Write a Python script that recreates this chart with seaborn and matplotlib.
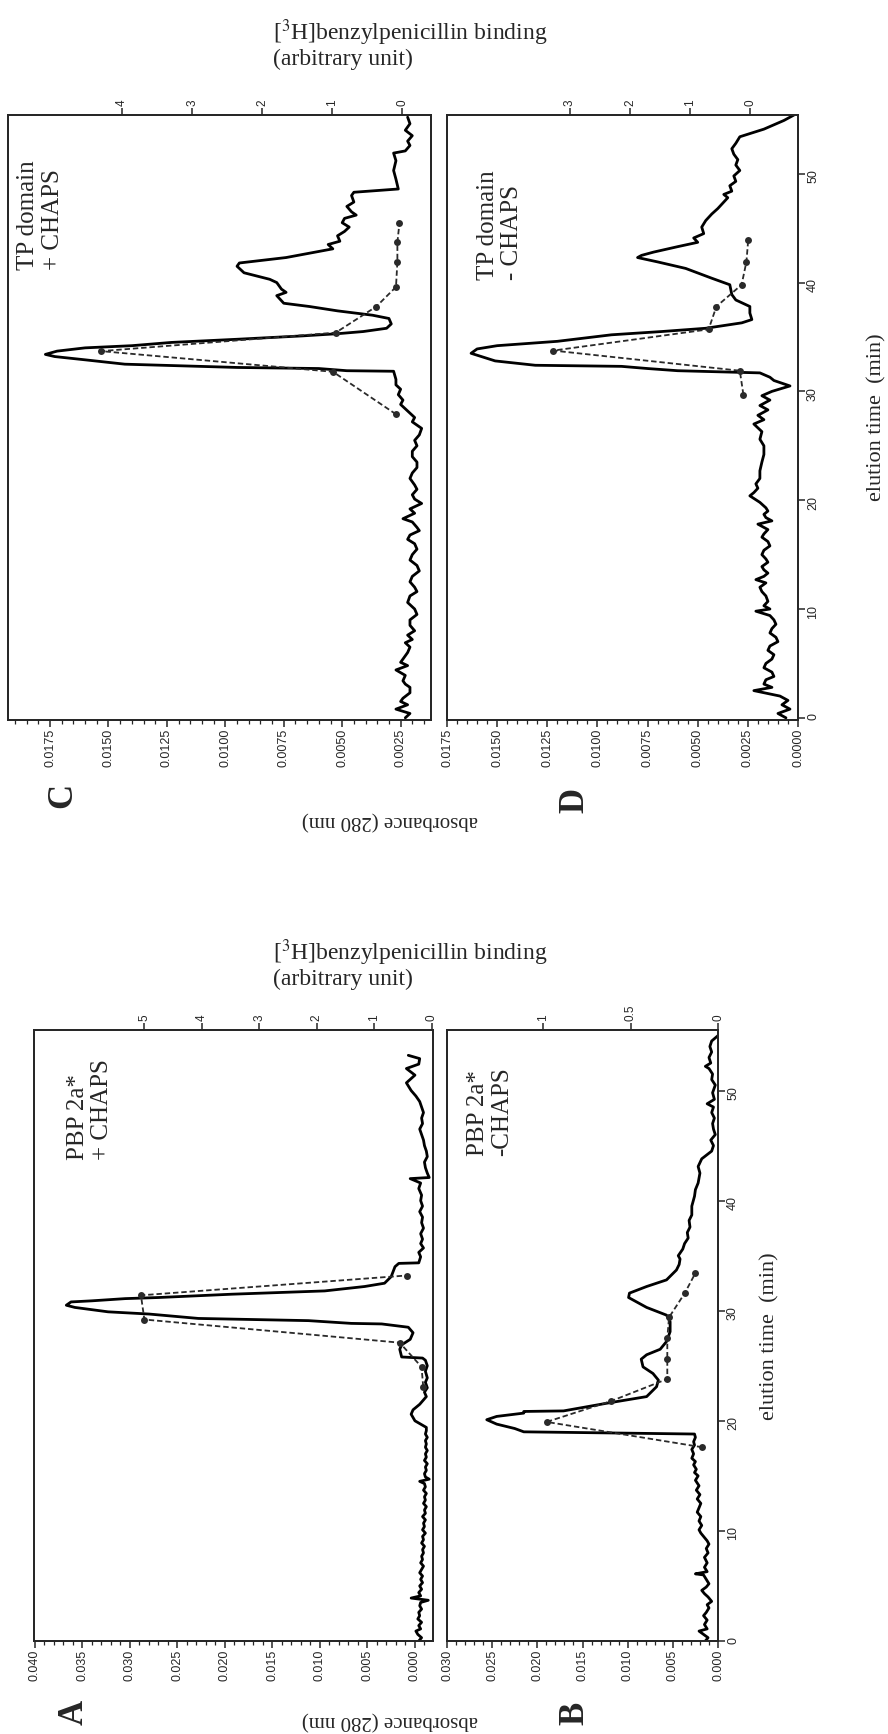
import matplotlib
matplotlib.use("Agg")
import matplotlib.pyplot as plt
from matplotlib.ticker import FixedLocator, AutoMinorLocator, NullLocator
import seaborn as sns

# ---------------- data ----------------
# (elution time in min, absorbance at 280 nm) for the solid traces,
# binding in arbitrary units for the dashed traces

# A: PBP 2a* + CHAPS
a_trace = [(0.0, -0.0004), (0.3, -0.0007), (0.6, -0.0003), (0.9, -0.0001), (1.1, -0.0006),
           (1.4, -0.0004), (1.7, -0.0007), (2.0, -0.0003), (2.3, -0.0005), (2.6, -0.0004),
           (2.9, -0.0007), (3.2, -0.0005), (3.5, -0.0006), (3.7, -0.0014), (3.9, 0.0004),
           (4.1, -0.0006), (4.4, -0.0004), (4.7, -0.0007), (5.0, -0.0005), (5.3, -0.0008),
           (5.6, -0.0006), (5.9, -0.0008), (6.2, -0.0005), (6.5, -0.0007), (6.8, -0.0009),
           (7.1, -0.0006), (7.4, -0.0008), (7.7, -0.0007), (8.0, -0.0009), (8.3, -0.0008),
           (8.6, -0.0010), (8.9, -0.0007), (9.2, -0.0009), (9.5, -0.0008), (9.8, -0.0011),
           (10.1, -0.0008), (10.4, -0.0010), (10.7, -0.0009), (11.0, -0.0011), (11.3, -0.0008),
           (11.6, -0.0011), (11.9, -0.0010), (12.2, -0.0012), (12.5, -0.0009), (12.8, -0.0011),
           (13.1, -0.0010), (13.4, -0.0012), (13.7, -0.0009), (14.0, -0.0011), (14.3, -0.0010),
           (14.5, -0.0005), (14.7, -0.0015), (14.9, -0.0011), (15.2, -0.0010), (15.5, -0.0012),
           (15.8, -0.0011), (16.1, -0.0013), (16.4, -0.0010), (16.7, -0.0012), (17.0, -0.0011),
           (17.3, -0.0013), (17.6, -0.0011), (17.9, -0.0012), (18.2, -0.0011), (18.5, -0.0013),
           (18.8, -0.0011), (19.1, -0.0012), (19.4, -0.0012), (20.0, 0.0000), (20.6, 0.0004),
           (21.0, 0.0002), (21.5, -0.0005), (22.2, -0.0012), (22.6, -0.0010), (23.0, -0.0013),
           (23.5, -0.0011), (23.9, -0.0013), (24.5, -0.0011), (25.0, -0.0013), (25.5, -0.0011),
           (25.7, -0.0008), (25.8, 0.0014), (26.5, 0.0016), (26.9, 0.0014), (27.4, 0.0005),
           (28.0, 0.0002), (28.5, 0.0007), (28.8, 0.0035), (28.85, 0.0067), (29.1, 0.0112),
           (29.3, 0.0228), (29.7, 0.0280), (29.9, 0.0323), (30.3, 0.0358), (30.5, 0.0367),
           (30.8, 0.0362), (30.9, 0.0340), (31.1, 0.0305), (31.2, 0.0270), (31.5, 0.0193),
           (31.8, 0.0095), (32.2, 0.0053), (32.5, 0.0032), (33.1, 0.0025), (34.0, 0.0021),
           (34.3, 0.0017), (34.35, -0.0004), (34.9, -0.0006), (35.3, -0.0004), (35.7, -0.0009),
           (36.1, -0.0006), (36.5, -0.0008), (37.0, -0.0006), (37.5, -0.0009), (38.0, -0.0007),
           (38.5, -0.0008), (39.0, -0.0005), (39.5, -0.0008), (40.0, -0.0006), (40.5, -0.0007),
           (41.1, -0.0004), (41.6, -0.0006), (42.0, 0.0005), (42.1, -0.0015), (42.5, -0.0013),
           (43.0, -0.0011), (43.5, -0.0010), (44.0, -0.0013), (44.5, -0.0012), (45.0, -0.0010),
           (45.5, -0.0009), (46.0, -0.0007), (46.5, -0.0005), (47.0, -0.0008), (47.5, -0.0007),
           (48.0, -0.0009), (48.5, -0.0007), (49.0, -0.0005), (49.5, -0.0001), (50.0, 0.0004),
           (50.7, 0.0009), (51.4, 0.0000), (52.0, 0.0009), (52.4, -0.0004), (52.9, -0.0005),
           (53.2, 0.0007)]
a_bind_time = [23.1, 24.9, 27.1, 29.2, 31.4, 33.2]
a_bind = [0.15, 0.18, 0.56, 5.0, 5.06, 0.44]

# B: PBP 2a* - CHAPS
b_trace = [(0.0, 0.0014), (0.3, 0.0011), (0.6, 0.0016), (0.9, 0.0021), (1.1, 0.0012),
           (1.5, 0.0015), (1.9, 0.0012), (2.3, 0.0016), (2.6, 0.0013), (3.0, 0.0010),
           (3.3, 0.0012), (3.6, 0.0007), (4.0, 0.0011), (4.3, 0.0015), (4.6, 0.0018),
           (4.9, 0.0013), (5.2, 0.0010), (5.6, 0.0013), (6.0, 0.0016), (6.1, 0.0025),
           (6.3, 0.0012), (6.7, 0.0015), (7.1, 0.0012), (7.6, 0.0015), (8.0, 0.0011),
           (8.4, 0.0013), (8.8, 0.0010), (9.1, 0.0012), (9.5, 0.0016), (9.8, 0.0019),
           (10.1, 0.0021), (10.5, 0.0018), (10.9, 0.0021), (11.3, 0.0019), (11.7, 0.0023),
           (12.1, 0.0021), (12.5, 0.0019), (12.9, 0.0023), (13.3, 0.0020), (13.7, 0.0024),
           (14.1, 0.0021), (14.6, 0.0025), (15.0, 0.0022), (15.3, 0.0026), (15.6, 0.0024),
           (16.0, 0.0027), (16.3, 0.0025), (16.6, 0.0029), (17.0, 0.0027), (17.4, 0.0029),
           (17.8, 0.0026), (18.1, 0.0027), (18.5, 0.0025), (18.8, 0.0026), (19.0, 0.0215),
           (19.3, 0.0225), (19.7, 0.0245), (20.1, 0.0256), (20.4, 0.0245), (20.7, 0.0215),
           (20.85, 0.0215), (20.9, 0.0171), (21.6, 0.0123), (21.9, 0.0101), (22.2, 0.0079),
           (23.1, 0.0068), (23.7, 0.0066), (24.3, 0.0072), (24.9, 0.0083), (25.6, 0.0085),
           (26.0, 0.0079), (26.5, 0.0064), (27.2, 0.0057), (28.1, 0.0053), (29.0, 0.0053),
           (29.6, 0.0057), (30.3, 0.0079), (31.2, 0.0099), (31.6, 0.0098), (32.2, 0.0079),
           (32.8, 0.0057), (33.7, 0.0046), (34.2, 0.0043), (34.7, 0.0042), (35.0, 0.0044),
           (35.6, 0.0039), (36.1, 0.0037), (36.6, 0.0033), (37.1, 0.0034), (37.6, 0.0031),
           (38.2, 0.0032), (38.7, 0.0029), (39.5, 0.0029), (40.4, 0.0026), (41.0, 0.0025),
           (41.6, 0.0022), (42.5, 0.0020), (43.1, 0.0022), (43.8, 0.0018), (44.5, 0.0007),
           (45.0, 0.0005), (45.5, 0.0008), (46.0, 0.0003), (46.5, 0.0005), (47.0, 0.0006),
           (47.5, 0.0004), (48.0, 0.0007), (48.5, 0.0005), (48.8, 0.0012), (49.2, 0.0004),
           (49.8, 0.0006), (50.5, 0.0003), (51.0, 0.0007), (51.5, 0.0006), (52.0, 0.0010),
           (52.2, 0.0014), (52.5, 0.0008), (53.0, 0.0010), (53.5, 0.0007), (54.0, 0.0009),
           (54.5, 0.0007), (55.2, -0.0003)]
b_bind_time = [17.6, 19.9, 21.8, 23.8, 25.6, 27.5, 29.4, 31.6, 33.4]
b_bind = [0.09, 0.98, 0.61, 0.29, 0.29, 0.29, 0.28, 0.19, 0.13]

# C: TP domain + CHAPS
c_trace = [(0.0, 0.0023), (0.4, 0.0021), (0.8, 0.0027), (1.2, 0.0022), (1.5, 0.0025),
           (1.8, 0.0024), (2.3, 0.0021), (2.8, 0.0021), (3.1, 0.0023), (3.4, 0.0024),
           (3.9, 0.0023), (4.4, 0.0027), (4.8, 0.0022), (5.1, 0.0025), (5.4, 0.0024),
           (6.0, 0.0022), (6.5, 0.0021), (6.9, 0.0023), (7.2, 0.0020), (7.6, 0.0022),
           (8.0, 0.0019), (8.5, 0.0021), (9.0, 0.0021), (9.5, 0.0018), (10.0, 0.0019),
           (10.6, 0.0022), (11.2, 0.0021), (11.6, 0.0018), (12.0, 0.0019), (12.5, 0.0021),
           (13.0, 0.0020), (13.5, 0.0017), (14.0, 0.0018), (14.5, 0.0021), (15.0, 0.0020),
           (15.5, 0.0018), (16.0, 0.0019), (16.4, 0.0022), (16.8, 0.0021), (17.2, 0.0017),
           (17.5, 0.0018), (18.0, 0.0020), (18.3, 0.0024), (18.8, 0.0019), (19.2, 0.0021),
           (19.7, 0.0016), (20.1, 0.0019), (20.5, 0.0020), (21.0, 0.0018), (21.4, 0.0019),
           (22.0, 0.0021), (22.5, 0.0020), (23.0, 0.0018), (23.5, 0.0018), (24.0, 0.0020),
           (24.5, 0.0020), (25.0, 0.0018), (25.5, 0.0019), (26.0, 0.0017), (26.6, 0.0016),
           (27.2, 0.0020), (27.6, 0.0019), (28.2, 0.0022), (28.8, 0.0025), (29.2, 0.0024),
           (29.7, 0.0026), (30.2, 0.0025), (30.6, 0.0027), (31.1, 0.0027), (31.85, 0.0028),
           (31.9, 0.0048), (32.1, 0.0060), (32.2, 0.0095), (32.5, 0.0143), (32.9, 0.0160),
           (33.2, 0.0173), (33.4, 0.0177), (33.7, 0.0172), (34.0, 0.0160), (34.2, 0.0140),
           (34.5, 0.0123), (34.8, 0.0094), (35.1, 0.0067), (35.3, 0.0052), (35.5, 0.0041),
           (35.8, 0.0031), (36.2, 0.0029), (36.7, 0.0030), (37.0, 0.0037), (37.4, 0.0052),
           (37.8, 0.0064), (38.1, 0.0075), (38.8, 0.0078), (39.1, 0.0074), (39.4, 0.0076),
           (40.0, 0.0078), (40.3, 0.0081), (40.9, 0.0092), (41.5, 0.0095), (41.8, 0.0094),
           (42.3, 0.0074), (43.1, 0.0054), (43.5, 0.0056), (43.8, 0.0051), (44.3, 0.0052),
           (44.7, 0.0049), (45.1, 0.0047), (45.5, 0.0050), (45.9, 0.0049), (46.2, 0.0044),
           (46.5, 0.0046), (47.0, 0.0048), (47.4, 0.0045), (48.0, 0.0046), (48.3, 0.0045),
           (48.6, 0.0026), (49.5, 0.0027), (50.3, 0.0028), (51.2, 0.0027), (51.9, 0.0028),
           (52.1, 0.0023), (52.6, 0.0021), (53.0, 0.0022), (53.5, 0.0020), (54.0, 0.0023),
           (54.6, 0.0021), (55.2, 0.0022)]
c_bind_time = [27.9, 31.8, 33.7, 35.4, 37.8, 39.6, 41.9, 43.7, 45.5]
c_bind = [0.09, 0.99, 4.3, 0.95, 0.37, 0.09, 0.07, 0.07, 0.04]

# D: TP domain - CHAPS
d_trace = [(0.0, 0.0006), (0.4, 0.0010), (0.8, 0.0004), (1.2, 0.0008), (1.6, 0.0005),
           (2.0, 0.0009), (2.5, 0.0022), (2.8, 0.0013), (3.1, 0.0017), (3.5, 0.0016),
           (3.8, 0.0012), (4.2, 0.0013), (4.6, 0.0017), (5.0, 0.0016), (5.4, 0.0013),
           (5.8, 0.0012), (6.2, 0.0015), (6.6, 0.0014), (7.0, 0.0010), (7.4, 0.0011),
           (7.8, 0.0014), (8.2, 0.0013), (8.6, 0.0011), (9.0, 0.0012), (9.4, 0.0014),
           (9.8, 0.0021), (10.0, 0.0014), (10.3, 0.0017), (10.7, 0.0015), (11.2, 0.0016),
           (11.6, 0.0018), (12.0, 0.0019), (12.4, 0.0016), (12.7, 0.0021), (13.0, 0.0017),
           (13.3, 0.0015), (13.6, 0.0017), (13.9, 0.0018), (14.3, 0.0015), (14.6, 0.0016),
           (15.0, 0.0018), (15.4, 0.0017), (15.8, 0.0014), (16.2, 0.0015), (16.6, 0.0018),
           (16.9, 0.0017), (17.3, 0.0015), (17.8, 0.0020), (18.1, 0.0013), (18.4, 0.0016),
           (18.7, 0.0017), (19.0, 0.0015), (19.3, 0.0016), (19.8, 0.0019), (20.4, 0.0024),
           (20.7, 0.0022), (21.1, 0.0020), (21.5, 0.0021), (22.0, 0.0019), (22.7, 0.0019),
           (23.5, 0.0018), (24.2, 0.0017), (25.0, 0.0017), (25.6, 0.0019), (26.3, 0.0018),
           (27.0, 0.0022), (27.4, 0.0017), (27.8, 0.0020), (28.3, 0.0015), (28.7, 0.0019),
           (29.2, 0.0014), (29.6, 0.0018), (30.0, 0.0013), (30.5, 0.0004), (31.0, 0.0012),
           (31.3, 0.0014), (31.7, 0.0019), (31.9, 0.0060), (32.1, 0.0075), (32.3, 0.0088),
           (32.4, 0.0131), (32.8, 0.0151), (33.5, 0.0163), (33.9, 0.0160), (34.2, 0.0150),
           (34.6, 0.0120), (35.2, 0.0093), (35.5, 0.0068), (35.8, 0.0046), (36.3, 0.0028),
           (36.6, 0.0023), (37.2, 0.0024), (37.8, 0.0024), (38.4, 0.0031), (38.9, 0.0033),
           (39.8, 0.0034), (40.4, 0.0043), (41.3, 0.0056), (41.9, 0.0070), (42.3, 0.0080),
           (42.5, 0.0078), (42.8, 0.0072), (43.3, 0.0060), (43.7, 0.0050), (44.1, 0.0052),
           (44.5, 0.0047), (45.1, 0.0048), (45.7, 0.0046), (46.3, 0.0043), (46.8, 0.0040),
           (47.2, 0.0038), (47.8, 0.0035), (48.1, 0.0037), (48.4, 0.0033), (48.9, 0.0034),
           (49.3, 0.0031), (49.8, 0.0032), (50.3, 0.0029), (50.8, 0.0031), (51.3, 0.0030),
           (51.8, 0.0032), (52.3, 0.0033), (52.8, 0.0031), (53.4, 0.0029), (54.1, 0.0017),
           (54.5, 0.0012), (54.9, 0.0007), (55.4, 0.0002)]
d_bind_time = [29.7, 31.9, 33.75, 35.7, 37.8, 39.8, 41.9, 43.9]
d_bind = [0.11, 0.17, 3.28, 0.69, 0.56, 0.14, 0.06, 0.03]

# tick values and labels
a_abs_ticks = [0.040, 0.035, 0.030, 0.025, 0.020, 0.015, 0.010, 0.005, 0.000]
a_abs_labels = ["0.040", "0.035", "0.030", "0.025", "0.020", "0.015", "0.010", "0.005", "0.000"]
b_abs_ticks = [0.030, 0.025, 0.020, 0.015, 0.010, 0.005, 0.000]
b_abs_labels = ["0.030", "0.025", "0.020", "0.015", "0.010", "0.005", "0.000"]
c_abs_ticks = [0.0175, 0.0150, 0.0125, 0.0100, 0.0075, 0.0050, 0.0025]
c_abs_labels = ["0.0175", "0.0150", "0.0125", "0.0100", "0.0075", "0.0050", "0.0025"]
d_abs_ticks = [0.0175, 0.0150, 0.0125, 0.0100, 0.0075, 0.0050, 0.0025, 0.0000]
d_abs_labels = ["0.0175", "0.0150", "0.0125", "0.0100", "0.0075", "0.0050", "0.0025", "0.0000"]
a_bind_ticks = [5, 4, 3, 2, 1, 0]
b_bind_ticks = [1, 0.5, 0]
b_bind_labels = ["1", "0.5", "0"]
c_bind_ticks = [4, 3, 2, 1, 0]
d_bind_ticks = [3, 2, 1, 0]
time_ticks = [0, 10, 20, 30, 40, 50]

# ---------------- drawing ----------------
sns.set_theme(style="ticks")
plt.rcParams["font.family"] = ["Liberation Serif", "DejaVu Serif"]
plt.rcParams["mathtext.fontset"] = "stix"
plt.rcParams["axes.linewidth"] = 1.3
TICKFONT = ["Liberation Sans Narrow", "Liberation Sans", "DejaVu Sans"]

W, H = 888, 1734
fig = plt.figure(figsize=(W / 100, H / 100), dpi=100)


def rect(x0, y0, x1, y1):
    return [x0 / W, 1 - y1 / H, (x1 - x0) / W, (y1 - y0) / H]


def panel(box, trace, bt, b, xlim, blim, ylim, aticks, alabels,
          bticks, blabels, show_time, note, note_xy):
    t = [p[0] for p in trace]
    a = [p[1] for p in trace]
    ax = fig.add_axes(rect(*box))
    sns.lineplot(x=a, y=t, sort=False, estimator=None, color="black",
                 lw=2.0, ax=ax)
    ax.set_xlim(xlim)
    ax.set_ylim(ylim)
    ax.set_xlabel("")
    ax.set_ylabel("")
    ax.xaxis.set_major_locator(FixedLocator(aticks))
    ax.set_xticklabels(alabels)
    ax.xaxis.set_minor_locator(AutoMinorLocator(5))
    ax.tick_params(axis="x", which="major", direction="out", length=5, width=1.1,
                   pad=1.5, labelsize=9, labelrotation=90, labelfontfamily=TICKFONT)
    ax.tick_params(axis="x", which="minor", direction="out", length=3, width=0.9)
    if show_time:
        ax.yaxis.set_major_locator(FixedLocator(time_ticks))
        ax.yaxis.tick_right()
        ax.tick_params(axis="y", direction="out", length=5, width=1.1, pad=1.5,
                       labelsize=9, labelrotation=90, labelfontfamily=TICKFONT)
    else:
        ax.yaxis.set_major_locator(NullLocator())
    ax.yaxis.set_minor_locator(NullLocator())

    ax2 = ax.twiny()
    sns.lineplot(x=b, y=bt, sort=False, estimator=None, color="#2a2a2a",
                 lw=1.3, linestyle=(0, (3, 1.6)), marker="o",
                 markersize=5, markeredgewidth=0, ax=ax2)
    ax2.set_xlim(blim)
    ax2.set_ylim(ylim)
    ax2.set_xlabel("")
    ax2.xaxis.set_major_locator(FixedLocator(bticks))
    ax2.set_xticklabels(blabels)
    ax2.xaxis.set_minor_locator(NullLocator())
    ax2.tick_params(axis="x", direction="out", length=5, width=1.1, pad=1.5,
                    labelsize=8.5, labelrotation=90, labelfontfamily=TICKFONT)
    for sp in ax2.spines.values():
        sp.set_linewidth(1.3)

    ax.text(note_xy[0], note_xy[1], note, transform=ax.transAxes, rotation=90,
            ha="center", va="center", multialignment="left", fontsize=18,
            linespacing=1.15)
    return ax


# top half: C and D
panel((8, 115, 431, 720), c_trace, c_bind_time, c_bind,
      (0.0193, 0.0012), (5.63, -0.41), (-0.2, 55.4), c_abs_ticks, c_abs_labels,
      c_bind_ticks, [str(v) for v in c_bind_ticks], False,
      "TP domain\n+ CHAPS", (0.077, 0.835))
panel((447, 115, 798, 720), d_trace, d_bind_time, d_bind,
      (0.0175, 0.0), (5.05, -0.8), (-0.2, 55.4), d_abs_ticks, d_abs_labels,
      d_bind_ticks, [str(v) for v in d_bind_ticks], True,
      "TP domain\n- CHAPS", (0.151, 0.818))

# bottom half: A and B
panel((34, 1030, 433, 1641), a_trace, a_bind_time, a_bind,
      (0.0401, -0.0019), (6.92, -0.02), (0, 55.5), a_abs_ticks, a_abs_labels,
      a_bind_ticks, [str(v) for v in a_bind_ticks], False,
      "PBP 2a*\n+ CHAPS", (0.14, 0.87))
panel((447, 1030, 718, 1641), b_trace, b_bind_time, b_bind,
      (0.030, 0.0), (1.55, 0.0), (0, 55.5), b_abs_ticks, b_abs_labels,
      b_bind_ticks, b_bind_labels, True,
      "PBP 2a*\n-CHAPS", (0.159, 0.866))


def ftext(x, y, s, **kw):
    fig.text(x / W, 1 - y / H, s, **kw)


for dy in (0, 920):
    ftext(273, 33 + dy, r"[$^{3}$H]benzylpenicillin binding", ha="left", va="center",
          fontsize=17)
    ftext(273, 59 + dy, "(arbitrary unit)", ha="left", va="center", fontsize=17)

ftext(877, 417, "elution time  (min)", rotation=90, ha="center", va="center", fontsize=16)
ftext(770, 1336, "elution time  (min)", rotation=90, ha="center", va="center", fontsize=16)

ftext(390, 820, "absorbance (280 nm)", rotation=180, ha="center", va="center", fontsize=15)
ftext(390, 1720, "absorbance (280 nm)", rotation=180, ha="center", va="center", fontsize=15)

for letter, x, y in [("C", 63, 795), ("D", 575, 800), ("A", 74, 1712), ("B", 575, 1713)]:
    ftext(x, y, letter, rotation=90, ha="center", va="center", fontsize=25,
          fontweight="bold")

fig.savefig("out.png", dpi=100)
